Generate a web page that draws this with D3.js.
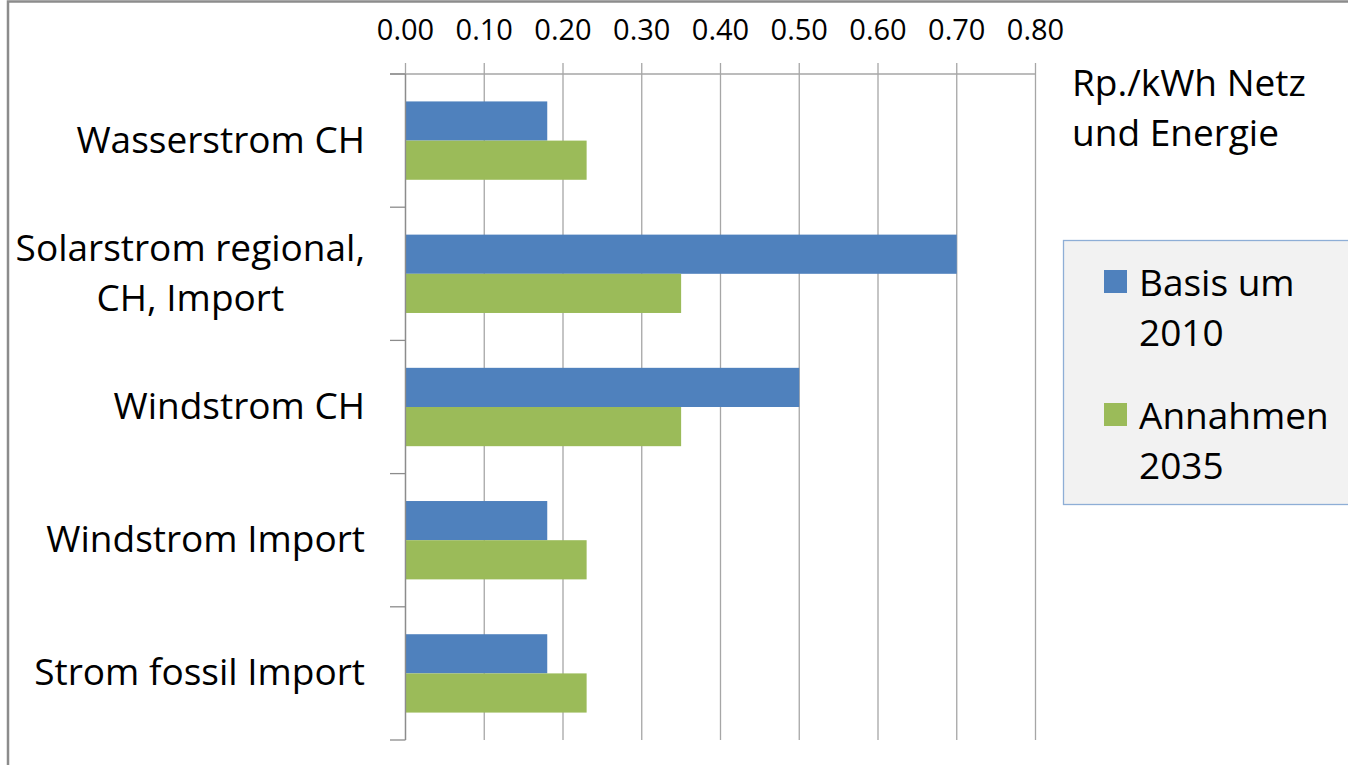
<!DOCTYPE html>
<html><head><meta charset="utf-8">
<script src="https://cdn.jsdelivr.net/npm/d3@7"></script>
<style>body{margin:0;background:#fff}svg{display:block}</style>
</head><body>
<script>
const categories = [["Wasserstrom CH"], ["Solarstrom regional,", "CH, Import"], ["Windstrom CH"], ["Windstrom Import"], ["Strom fossil Import"]];
const seriesNames = [["Basis um", "2010"], ["Annahmen", "2035"]];
const basis2010 = [0.18, 0.70, 0.50, 0.18, 0.18];
const annahmen2035 = [0.23, 0.35, 0.35, 0.23, 0.23];
const tickValues = [0, 0.1, 0.2, 0.3, 0.4, 0.5, 0.6, 0.7, 0.8];
const axisTitle = ["Rp./kWh Netz", "und Energie"];
const colors = ["#4f81bd", "#9bbb59"];

const W = 1348, H = 765;
const font = "'Open Sans', Lato, sans-serif";
const svg = d3.select("body").append("svg").attr("width", W).attr("height", H);

// frame
svg.append("rect").attr("x", 8).attr("y", 1.5).attr("width", W + 20).attr("height", H + 20)
  .attr("fill", "#fff").attr("stroke", "#8c8c8c").attr("stroke-width", 2.5);

const x = d3.scaleLinear().domain([0, 0.8]).range([405.5, 1035.5]);
const y = d3.scaleBand().domain(d3.range(categories.length)).range([74, 740]).paddingInner(0).paddingOuter(0);
const sub = d3.scaleBand().domain([0, 1]).range([0, y.bandwidth()]).paddingOuter(0.7).paddingInner(0);

// gridlines
svg.append("g").selectAll("line").data(tickValues).join("line")
  .attr("x1", d => x(d)).attr("x2", d => x(d)).attr("y1", 63).attr("y2", 740)
  .attr("stroke", "#a6a6a6").attr("stroke-width", 1.3);

// top axis line
svg.append("line").attr("x1", 390).attr("x2", x(0.8)).attr("y1", 74).attr("y2", 74)
  .attr("stroke", "#a6a6a6").attr("stroke-width", 1.3);

// bars
const series = [basis2010, annahmen2035];
series.forEach((vals, si) => {
  svg.append("g").selectAll("rect").data(vals).join("rect")
    .attr("x", x(0))
    .attr("y", (d, i) => y(i) + sub(si))
    .attr("width", d => x(d) - x(0))
    .attr("height", sub.bandwidth())
    .attr("fill", colors[si]);
});

// left axis
svg.append("line").attr("x1", x(0)).attr("x2", x(0)).attr("y1", 74).attr("y2", 740)
  .attr("stroke", "#8c8c8c").attr("stroke-width", 1.3);
svg.append("g").selectAll("line").data(d3.range(categories.length + 1)).join("line")
  .attr("x1", 390).attr("x2", x(0))
  .attr("y1", i => 74 + i * y.step()).attr("y2", i => 74 + i * y.step())
  .attr("stroke", "#8c8c8c").attr("stroke-width", 1.3);

// tick labels
svg.append("g").selectAll("text").data(tickValues).join("text")
  .attr("x", d => x(d)).attr("y", 40).attr("text-anchor", "middle")
  .attr("font-family", font).attr("font-size", 29).attr("fill", "#000")
  .text(d => d3.format(".2f")(d));

// category labels
const catG = svg.append("g");
categories.forEach((lines, i) => {
  const cy = y(i) + y.bandwidth() / 2;
  const lh = 50;
  const t = catG.append("text").attr("font-family", font).attr("font-size", 37).attr("fill", "#000");
  lines.forEach((l, k) => {
    t.append("tspan").attr("x", 0).attr("y", cy + 12 + (k - (lines.length - 1) / 2) * lh).text(l);
  });
  const spans = t.selectAll("tspan").nodes();
  const widths = spans.map(s => s.getComputedTextLength());
  const maxW = d3.max(widths);
  spans.forEach((s, k) => d3.select(s).attr("x", 365 - maxW + (maxW - widths[k]) / 2));
});

// axis title
const at = svg.append("text").attr("font-family", font).attr("font-size", 37).attr("fill", "#000");
axisTitle.forEach((l, k) => at.append("tspan").attr("x", 1072).attr("y", 96 + k * 50).text(l));

// legend
svg.append("rect").attr("x", 1063.5).attr("y", 240.5).attr("width", 300).attr("height", 264)
  .attr("fill", "#f2f2f2").attr("stroke", "#8eaed6").attr("stroke-width", 1.3);
seriesNames.forEach((lines, si) => {
  const top = 270 + si * 133;
  svg.append("rect").attr("x", 1104).attr("y", top).attr("width", 23).attr("height", 23).attr("fill", colors[si]);
  const t = svg.append("text").attr("font-family", font).attr("font-size", 37).attr("fill", "#000");
  lines.forEach((l, k) => t.append("tspan").attr("x", 1139).attr("y", top + 26 + k * 50).text(l));
});
</script>
</body></html>
